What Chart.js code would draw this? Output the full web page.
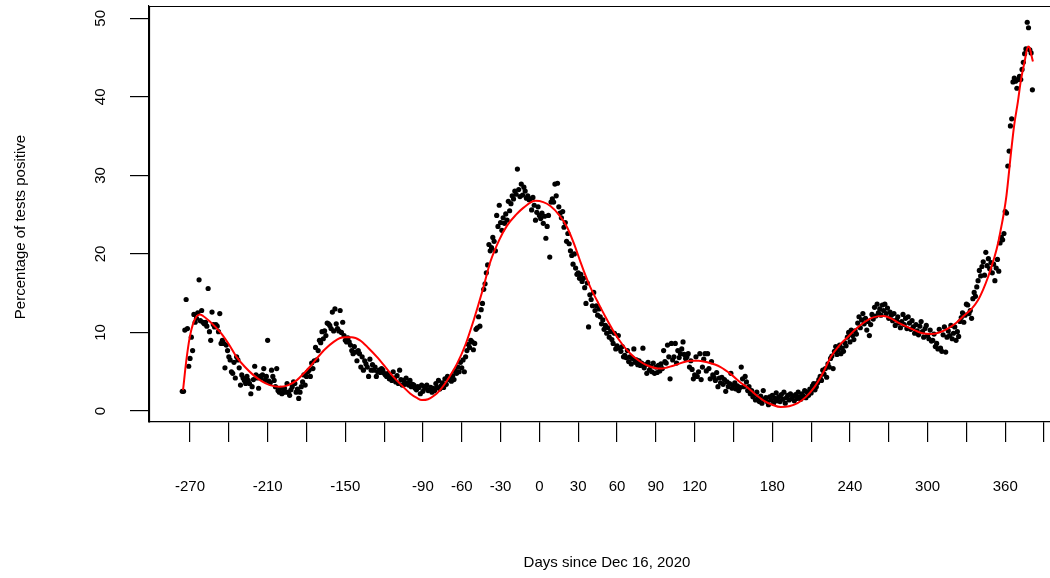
<!DOCTYPE html>
<html><head><meta charset="utf-8">
<script src="https://cdn.jsdelivr.net/npm/chart.js@4.4.1/dist/chart.umd.min.js"></script>
<style>html,body{margin:0;padding:0;overflow:hidden;background:#fff;width:1050px;height:578px}
#c{display:block;width:1050px;height:578px}</style>
</head><body>
<canvas id="c" width="1050" height="578"></canvas>
<script>
// Daily percentage of tests positive, starting at day -276 (one value per day)
const firstDay = -276;
const positivity = [
2.5,2.5,10.3,14.2,10.5,5.7,6.7,9.4,7.7,12.3,
11.3,11.8,12.5,16.7,11.5,12.8,11.3,11.1,11.3,10.8,
15.6,10.1,9.0,12.6,11.0,10.7,11.0,10.8,10.1,12.4,
8.6,9.0,8.6,5.5,8.4,7.7,6.9,6.5,5.0,4.8,
6.2,4.2,6.9,6.5,5.5,3.3,4.6,4.2,3.9,3.5,
4.4,3.9,3.5,2.2,3.1,4.0,5.7,4.6,4.2,2.9,
4.4,4.2,4.6,5.4,3.9,4.4,9.0,3.8,3.6,5.2,
4.4,3.9,3.1,5.4,2.6,2.4,2.9,2.2,2.4,2.9,
2.4,3.5,2.4,2.0,2.7,3.1,3.7,3.5,2.4,2.8,
1.6,2.4,3.1,3.7,4.6,3.3,4.4,5.0,5.2,4.4,
6.1,5.4,6.4,8.1,6.5,7.7,9.0,8.7,10.1,9.2,
10.2,9.6,11.2,11.1,10.9,10.5,12.6,10.2,13.0,11.1,
10.5,10.2,12.8,10.0,11.3,9.6,9.0,8.8,9.3,8.8,
8.4,7.7,7.3,8.2,7.5,6.4,7.7,7.3,5.6,6.9,
5.2,6.4,6.0,5.6,4.4,6.6,5.2,5.9,5.2,5.6,
4.4,5.0,5.2,4.9,5.4,5.2,4.8,4.6,4.4,4.8,
4.1,4.3,3.9,5.0,4.2,3.7,4.5,3.5,5.2,4.0,
3.3,3.9,3.4,4.2,3.6,3.3,3.9,3.1,3.4,3.3,
2.9,2.7,3.1,3.0,2.2,3.3,2.5,3.1,2.9,3.3,
2.6,2.7,3.0,2.4,2.9,2.6,3.5,3.0,3.9,2.8,
3.2,3.6,3.0,4.1,3.4,4.4,4.0,4.2,3.8,4.5,
4.0,5.1,4.8,5.6,5.0,6.2,5.5,6.5,5.0,6.9,
7.7,8.5,8.1,9.0,8.8,7.8,8.6,10.4,10.6,12.0,
10.8,12.9,13.7,15.5,16.2,17.6,18.6,21.2,20.4,20.8,
22.1,21.6,20.4,24.9,23.5,26.2,24.0,23.0,24.6,23.9,
25.1,24.3,26.7,25.5,26.4,27.4,27.0,28.0,27.6,30.8,
28.2,27.3,28.9,27.5,28.5,28.0,27.1,27.4,26.9,27.0,
25.6,27.2,26.2,24.3,25.3,26.0,24.9,24.5,25.2,23.9,
24.8,22.0,23.5,24.9,19.6,26.6,27.0,26.6,28.9,27.4,
29.0,26.0,25.2,24.6,25.4,23.4,24.0,21.6,22.6,21.3,
20.4,19.8,18.7,20.0,18.2,17.4,17.6,16.9,17.4,16.5,
16.9,15.7,13.7,16.3,10.7,14.8,14.2,13.4,15.1,12.8,
13.4,12.2,13.0,12.0,11.1,11.6,10.4,10.9,9.9,10.6,
9.4,10.1,9.1,8.6,9.9,7.9,8.3,9.6,8.0,7.6,
8.2,6.9,7.1,6.8,7.7,6.3,6.9,6.0,6.7,7.9,
6.2,6.5,5.9,6.4,5.8,6.1,8.0,5.5,5.9,4.8,
6.2,5.2,5.7,5.0,6.1,4.8,5.6,4.9,5.8,5.1,
6.0,5.4,7.7,6.3,6.1,8.4,6.9,4.1,8.6,6.5,
6.9,8.6,6.1,7.7,6.8,7.3,7.9,8.8,7.2,6.7,
6.9,7.3,5.6,6.4,5.3,4.1,4.6,6.9,4.4,5.0,
7.3,4.0,5.6,6.6,7.3,5.1,7.3,5.4,4.1,6.3,
4.6,4.3,3.9,4.9,3.1,4.2,3.6,4.3,3.4,4.0,
2.5,3.7,3.1,3.5,4.8,2.9,3.3,3.6,2.8,3.2,
2.6,3.0,5.6,4.1,3.1,4.4,3.7,2.6,3.1,2.2,
2.6,1.8,2.0,1.4,2.4,1.6,1.2,1.9,1.0,2.6,
1.5,1.7,1.2,0.8,1.8,1.4,2.0,1.0,1.6,2.3,
1.3,1.8,1.2,2.1,1.5,2.4,1.0,1.7,2.0,1.4,
2.2,1.6,1.9,1.3,2.1,1.6,2.4,1.8,1.5,2.2,
1.9,2.6,1.7,2.4,2.0,2.8,2.3,3.2,3.5,2.7,
3.1,3.6,4.0,4.4,3.9,5.2,4.7,5.4,4.3,6.0,
5.6,6.7,7.0,5.4,7.6,8.2,7.2,7.8,8.4,7.3,
8.0,7.6,8.7,8.3,9.4,10.0,8.8,10.3,9.6,9.1,
10.2,9.8,11.2,12.0,10.6,11.6,12.4,11.1,11.8,10.3,
11.4,9.6,11.0,12.3,11.7,13.2,12.1,13.6,12.5,13.0,
12.2,13.5,12.8,13.6,12.4,13.1,11.8,12.6,12.2,11.5,
12.4,10.9,11.6,12.0,11.2,10.6,11.4,12.3,11.0,11.8,
10.5,12.0,11.2,10.4,11.5,10.7,9.9,11.0,10.2,9.7,
10.8,11.4,10.1,9.4,10.5,10.9,9.6,9.2,10.3,8.9,
9.0,9.8,8.2,8.6,7.9,10.4,8.0,7.6,9.7,10.7,
7.5,9.4,10.2,9.6,10.9,9.2,9.9,10.7,9.0,10.1,
9.5,11.4,11.9,12.5,11.3,12.2,13.6,13.5,12.4,12.8,
11.8,14.3,15.1,14.6,15.8,16.6,17.9,17.2,18.4,19.0,
17.3,20.2,18.5,19.4,18.1,18.9,17.6,18.7,16.6,18.2,
19.3,17.8,21.4,22.1,21.8,22.6,25.4,25.2,31.2,33.1,
36.3,37.2,41.9,42.4,42.0,41.1,42.2,42.6,42.2,43.5,
44.4,45.5,46.1,49.5,48.8,46.0,45.6,40.9
];

// Smooth fitted curve (red)
const fitDays = [-275.4,-272.8,-270.2,-267.7,-265.1,-262.5,-259.9,-254.7,-247,-240,-234.1,-227.5,-221.2,-214.7,-208.3,-200.5,-194,-187.6,-182,-177,-172,-165.5,-159,-154,-150,-145,-138.6,-132,-125.6,-119,-112.8,-106,-99.9,-95,-90.8,-86,-81,-76.6,-72.5,-69,-63.7,-57,-50.9,-44,-37.9,-31,-25,-18,-12.2,-3.1,3,8.5,15,21.4,26.5,31.7,36,39.5,44.7,51,57.5,64,70.4,77,83.4,93.7,104,116.9,123,129.8,140,147.9,155.6,160.8,167,173.6,180,186.6,193,199.5,206,212.4,219,225.3,231.5,238.2,245,251.1,256,261.4,266,271.7,276.9,283,289.8,296,302.7,309,315.6,322,328.5,334,338.9,343,346.6,349,351.7,354.5,356.9,358.5,361,364.6,367,369.8,372,375,377.6,379,380.1,381.4];
const fitValues = [2.66,6.5,9.4,11.1,12.0,12.3,12.1,11.4,10.1,8.5,6.9,5.6,4.6,3.8,3.3,3.1,3.3,3.9,4.8,5.7,6.7,7.9,8.8,9.3,9.4,9.4,9.0,8.0,6.9,5.6,4.35,3.2,2.24,1.7,1.4,1.5,2.0,2.7,3.6,4.5,6.0,8.5,11.5,15.3,19.0,21.8,23.6,25.0,25.9,26.76,26.6,26.1,25.0,23.4,21.4,19.0,17.1,15.7,14.0,12.0,10.1,8.5,7.3,6.4,5.8,5.4,5.8,6.4,6.4,6.2,5.6,4.7,3.6,3.0,2.1,1.3,0.8,0.5,0.6,1.0,1.8,3.0,4.8,6.9,8.3,9.4,10.5,11.3,11.8,12.05,12.1,11.8,11.3,10.8,10.3,9.9,9.8,10.0,10.5,11.2,12.2,13.0,14.1,15.5,17.0,18.2,19.6,21.4,23.4,24.8,27.5,33.1,36.5,39.4,42.0,44.5,46.4,46.2,45.4,44.5];

// Axis ticks
const xTickValues = [-270,-240,-210,-180,-150,-120,-90,-60,-30,0,30,60,90,120,150,180,210,240,270,300,330,360,390];
const xTickLabels = ['-270','','-210','','-150','','-90','-60','-30','0','30','60','90','120','','180','','240','','300','','360',''];
const yTickValues = [0,10,20,30,40,50];
const yTickLabels = ['0','10','20','30','40','50'];
const xTitle = 'Days since Dec 16, 2020';
const yTitle = 'Percentage of tests positive';

const FONT = "'Liberation Sans', Arial, Helvetica, sans-serif";
Chart.defaults.font.family = FONT;
Chart.defaults.font.size = 15;
Chart.defaults.color = '#000';

const boxPlugin = {
  id: 'rbox',
  afterDraw(chart) {
    const {ctx, chartArea: a} = chart;
    ctx.save();
    ctx.strokeStyle = '#000';
    ctx.lineWidth = 1.2;
    ctx.beginPath();
    ctx.moveTo(Math.round(a.left) + 0.5, Math.round(a.bottom) + 0.5);
    ctx.lineTo(Math.round(a.left) + 0.5, Math.round(a.top) + 0.5);
    ctx.lineTo(a.right + 2, Math.round(a.top) + 0.5);
    ctx.stroke();
    const ys = chart.scales.y;
    ctx.fillStyle = '#000';
    ctx.font = '15px ' + FONT;
    ctx.textAlign = 'center';
    ctx.textBaseline = 'middle';
    // rotated y tick labels (R style)
    yTickValues.forEach((v, i) => {
      const py = ys.getPixelForValue(v);
      ctx.save();
      ctx.translate(100.5, py);
      ctx.rotate(-Math.PI / 2);
      ctx.fillText(yTickLabels[i], 0, 0);
      ctx.restore();
    });
    ctx.save();
    ctx.translate(21, 227);
    ctx.rotate(-Math.PI / 2);
    ctx.fillText(yTitle, 0, 0);
    ctx.restore();
    // x axis title, centred on the full (R) plot region
    ctx.fillText(xTitle, 607, 563);
    ctx.restore();
  }
};

new Chart(document.getElementById('c'), {
  type: 'scatter',
  data: {
    datasets: [
      {
        type: 'line',
        label: 'fit',
        data: fitDays.map((d, i) => ({x: d, y: fitValues[i]})),
        borderColor: '#ff0000',
        borderWidth: 2,
        pointRadius: 0,
        fill: false,
        cubicInterpolationMode: 'monotone',
        order: 0
      },
      {
        type: 'scatter',
        label: 'positivity',
        data: positivity.map((v, i) => ({x: firstDay + i, y: v})),
        pointRadius: 2.6,
        pointBackgroundColor: '#000',
        pointBorderWidth: 0,
        pointBorderColor: '#000',
        order: 1
      }
    ]
  },
  options: {
    responsive: false,
    maintainAspectRatio: false,
    animation: false,
    devicePixelRatio: 1,
    layout: {autoPadding: false, padding: {top: 6, right: 0, left: 0, bottom: 0}},
    plugins: {legend: {display: false}, tooltip: {enabled: false}},
    scales: {
      x: {
        type: 'linear',
        position: 'bottom',
        min: -301.7,
        max: 394.6,
        afterFit(s) { s.height = 156; s.paddingLeft = 0; s.paddingRight = 0; s.paddingTop = 0; s.paddingBottom = 0; },
        afterBuildTicks(s) { s.ticks = xTickValues.map(v => ({value: v})); },
        ticks: {
          autoSkip: false, maxRotation: 0, minRotation: 0, padding: 36, color: '#000',
          font: {size: 15},
          callback: (v) => { const k = xTickValues.indexOf(v); return k >= 0 ? xTickLabels[k] : ''; }
        },
        grid: {drawOnChartArea: false, drawTicks: true, tickLength: 20, color: '#000', lineWidth: 1.2},
        border: {display: true, color: '#000', width: 1.2},
        title: {display: false}
      },
      y: {
        type: 'linear',
        position: 'left',
        min: -1.40,
        max: 51.57,
        afterFit(s) { s.width = 149; s.paddingLeft = 0; s.paddingRight = 0; s.paddingTop = 0; s.paddingBottom = 0; },
        afterBuildTicks(s) { s.ticks = yTickValues.map(v => ({value: v})); },
        ticks: {display: false},
        grid: {drawOnChartArea: false, drawTicks: true, tickLength: 19, color: '#000', lineWidth: 1.2},
        border: {display: true, color: '#000', width: 1.2}
      }
    }
  },
  plugins: [boxPlugin]
});
</script>
</body></html>
